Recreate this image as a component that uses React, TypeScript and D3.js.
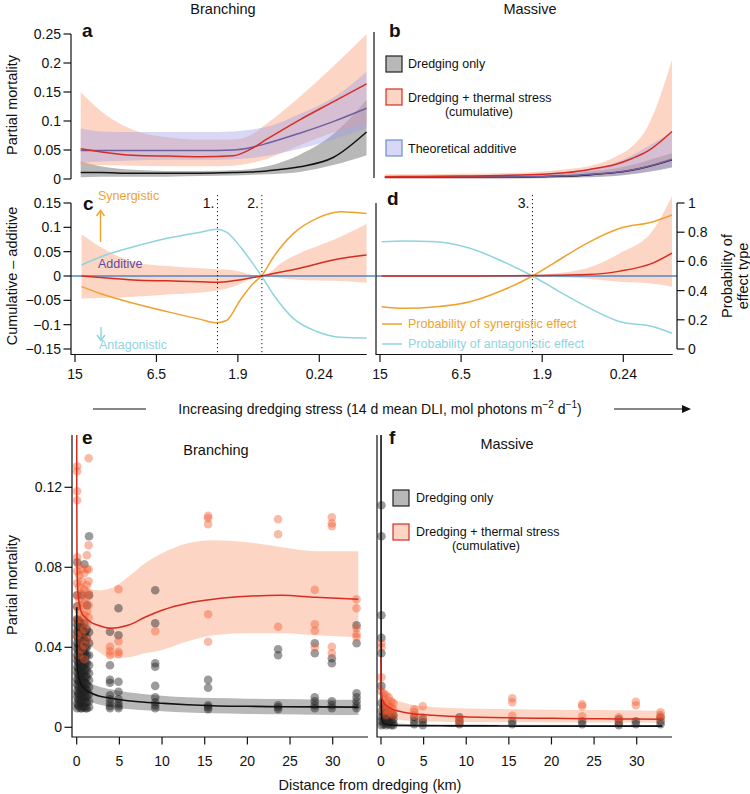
import React from "react";
import * as d3 from "d3";

// ---------- Tick labels ----------
const dliTicks = [0, 1, 2, 3];
const dliLabels = ["15", "6.5", "1.9", "0.24"];
const aYTicks = [0, 0.05, 0.1, 0.15, 0.2, 0.25];
const aYLabels = ["0", "0.05", "0.1", "0.15", "0.2", "0.25"];
const cYTicks = [-0.15, -0.1, -0.05, 0, 0.05, 0.1, 0.15];
const cYLabels = ["\u22120.15", "\u22120.1", "\u22120.05", "0", "0.05", "0.1", "0.15"];
const pTicks = [0, 0.2, 0.4, 0.6, 0.8, 1];
const pLabels = ["0", "0.2", "0.4", "0.6", "0.8", "1"];
const eYTicks = [0, 0.04, 0.08, 0.12];
const eYLabels = ["0", "0.04", "0.08", "0.12"];
const kmTicks = [0, 5, 10, 15, 20, 25, 30];

// ---------- Panel a (Branching) ----------
const uA = [0.07, 0.31, 0.71, 1.13, 1.54, 1.94, 2.15, 2.36, 2.76, 3.17, 3.58];
const aDredge = [0.011, 0.011, 0.010, 0.010, 0.010, 0.011, 0.012, 0.014, 0.021, 0.037, 0.081];
const aDredgeLo = [0.003, 0.004, 0.004, 0.004, 0.005, 0.006, 0.007, 0.008, 0.012, 0.024, 0.041];
const aDredgeHi = [0.030, 0.022, 0.016, 0.014, 0.014, 0.015, 0.017, 0.022, 0.042, 0.077, 0.136];
const aCumul = [0.052, 0.047, 0.041, 0.0395, 0.0385, 0.040, 0.051, 0.069, 0.102, 0.133, 0.164];
const aCumulLo = [0.024, 0.024, 0.023, 0.022, 0.022, 0.023, 0.027, 0.035, 0.058, 0.080, 0.095];
const aCumulHi = [0.150, 0.118, 0.085, 0.072, 0.068, 0.068, 0.075, 0.096, 0.142, 0.194, 0.250];
const aAdd = [0.049, 0.049, 0.049, 0.049, 0.049, 0.050, 0.054, 0.0615, 0.079, 0.099, 0.122];
const aAddLo = [0.028, 0.030, 0.032, 0.033, 0.033, 0.034, 0.036, 0.040, 0.052, 0.068, 0.088];
const aAddHi = [0.087, 0.082, 0.081, 0.081, 0.081, 0.082, 0.085, 0.090, 0.112, 0.140, 0.185];

// ---------- Panel b (Massive) ----------
const uB = [0.06, 0.5, 1.0, 1.5, 2.0, 2.3, 2.6, 2.9, 3.1, 3.3, 3.6];
const bCumul = [0.004, 0.0045, 0.005, 0.006, 0.008, 0.011, 0.017, 0.025, 0.035, 0.048, 0.082];
const bCumulLo = [0.0005, 0.0005, 0.001, 0.001, 0.002, 0.003, 0.005, 0.008, 0.011, 0.016, 0.028];
const bCumulHi = [0.008, 0.008, 0.009, 0.010, 0.013, 0.017, 0.023, 0.038, 0.055, 0.090, 0.205];
const bDredge = [0.003, 0.003, 0.003, 0.003, 0.004, 0.005, 0.0075, 0.011, 0.015, 0.021, 0.033];
const bDredgeLo = [0.001, 0.001, 0.001, 0.001, 0.0015, 0.002, 0.003, 0.005, 0.008, 0.012, 0.020];
const bDredgeHi = [0.005, 0.005, 0.005, 0.006, 0.007, 0.009, 0.013, 0.018, 0.024, 0.032, 0.045];
const bAdd = [0.0035, 0.0035, 0.0035, 0.0035, 0.0045, 0.0055, 0.008, 0.0115, 0.0155, 0.0215, 0.034];
const bAddLo = [0.001, 0.001, 0.001, 0.0015, 0.002, 0.003, 0.004, 0.006, 0.009, 0.013, 0.021];
const bAddHi = [0.006, 0.006, 0.006, 0.007, 0.009, 0.012, 0.018, 0.028, 0.040, 0.056, 0.080];

// ---------- Panel c ----------
const uC = [0.08, 0.31, 0.72, 1.13, 1.54, 1.74, 1.94, 2.29, 2.56, 2.76, 3.17, 3.58];
const cDiff = [0.0, -0.003, -0.008, -0.010, -0.0117, -0.013, -0.010, 0.0, 0.009, 0.016, 0.033, 0.043];
const cDiffLo = [-0.046, -0.045, -0.0425, -0.038, -0.034, -0.030, -0.022, 0.0, -0.005, -0.008, -0.010, -0.0137];
const cDiffHi = [0.086, 0.060, 0.029, 0.0206, 0.0158, 0.014, 0.012, 0.0, 0.030, 0.047, 0.074, 0.107];
const uCP = [0.08, 0.31, 0.72, 1.13, 1.54, 1.74, 1.86, 2.03, 2.19, 2.29, 2.44, 2.68, 2.97, 3.26, 3.58];
const cSyn = [0.427, 0.38, 0.313, 0.256, 0.203, 0.18, 0.195, 0.336, 0.45, 0.5, 0.632, 0.79, 0.895, 0.94, 0.928];
const cAnt = [0.575, 0.63, 0.70, 0.758, 0.80, 0.82, 0.80, 0.70, 0.58, 0.5, 0.37, 0.21, 0.12, 0.08, 0.075];
const cBreaks = [1.75, 2.295];
const cBreakLabels = ["1.", "2."];

// ---------- Panel d ----------
const uD = [0.02, 0.29, 0.70, 1.11, 1.52, 1.88, 2.14, 2.55, 2.96, 3.37, 3.6];
const dSyn = [0.29, 0.279, 0.29, 0.324, 0.404, 0.5, 0.587, 0.724, 0.827, 0.872, 0.918];
const dAnt = [0.735, 0.74, 0.735, 0.69, 0.598, 0.5, 0.416, 0.29, 0.187, 0.153, 0.108];
const dDiff = [0, 0, 0, 0, 0.0005, 0.001, 0.0015, 0.003, 0.010, 0.027, 0.047];
const dDiffLo = [-0.002, -0.002, -0.002, -0.002, -0.002, -0.001, -0.002, -0.005, -0.012, -0.016, -0.022];
const dDiffHi = [0.002, 0.002, 0.002, 0.002, 0.002, 0.002, 0.005, 0.016, 0.047, 0.095, 0.164];
const dBreaks = [1.88];
const dBreakLabels = ["3."];

// ---------- Panels e / f fitted curves ----------
const kmGrid = [0, 0.01, 0.03, 0.1, 0.3, 0.6, 1, 1.5, 2.5, 4, 6, 8, 10, 13, 16, 20, 24, 28, 33];
const eRed = [0.2, 0.12, 0.085, 0.07, 0.062, 0.057, 0.055, 0.053, 0.051, 0.0495, 0.051, 0.055, 0.0585, 0.062, 0.064, 0.0655, 0.066, 0.065, 0.064];
const eRedLo = [0.15, 0.085, 0.06, 0.05, 0.046, 0.044, 0.043, 0.041, 0.038, 0.0347, 0.035, 0.037, 0.0387, 0.043, 0.046, 0.047, 0.047, 0.046, 0.045];
const eRedHi = [0.25, 0.16, 0.11, 0.09, 0.08, 0.074, 0.071, 0.069, 0.0685, 0.0695, 0.075, 0.082, 0.087, 0.092, 0.0935, 0.0925, 0.09, 0.088, 0.088];
const eBlack = [0.06, 0.045, 0.036, 0.029, 0.024, 0.021, 0.019, 0.0175, 0.0158, 0.0145, 0.0133, 0.0125, 0.012, 0.0113, 0.0108, 0.0105, 0.0103, 0.0102, 0.0101];
const eBlackLo = [0.05, 0.036, 0.028, 0.021, 0.017, 0.015, 0.0135, 0.0128, 0.0115, 0.0102, 0.0092, 0.0085, 0.008, 0.0074, 0.007, 0.0067, 0.0065, 0.0063, 0.0062];
const eBlackHi = [0.07, 0.054, 0.044, 0.037, 0.031, 0.027, 0.0245, 0.0225, 0.0205, 0.019, 0.0175, 0.0165, 0.0158, 0.015, 0.0146, 0.0143, 0.0141, 0.0139, 0.0138];
const fRed = [0.035, 0.025, 0.019, 0.015, 0.0125, 0.011, 0.0098, 0.0088, 0.0077, 0.0067, 0.006, 0.0055, 0.0052, 0.0049, 0.0047, 0.0045, 0.0043, 0.0042, 0.004];
const fRedLo = [0.022, 0.015, 0.011, 0.008, 0.006, 0.005, 0.0045, 0.004, 0.0035, 0.003, 0.0028, 0.0027, 0.0026, 0.0025, 0.0025, 0.0024, 0.0024, 0.0024, 0.0023];
const fRedHi = [0.05, 0.036, 0.028, 0.023, 0.019, 0.017, 0.0155, 0.014, 0.0125, 0.011, 0.0102, 0.0097, 0.0094, 0.0091, 0.009, 0.0088, 0.0086, 0.0085, 0.0083];
const fBlack = [0.3, 0.05, 0.012, 0.004, 0.002, 0.0015, 0.0012, 0.001, 0.0009, 0.0008, 0.0008, 0.0007, 0.0007, 0.0007, 0.0006, 0.0006, 0.0006, 0.0006, 0.0006];
const fBlackLo = [0.25, 0.04, 0.009, 0.002, 0.001, 0.0008, 0.0006, 0.0005, 0.0004, 0.0004, 0.0003, 0.0003, 0.0003, 0.0003, 0.0003, 0.0003, 0.0003, 0.0003, 0.0003];
const fBlackHi = [0.35, 0.06, 0.016, 0.006, 0.0035, 0.0027, 0.0023, 0.002, 0.0018, 0.0016, 0.0015, 0.0014, 0.0014, 0.0013, 0.0013, 0.0013, 0.0012, 0.0012, 0.0012];

// ---------- Panels e / f observations: [km, values] ----------
const eGreyCols: [number, number[]][] = [
  [0.05, [0.0095, 0.012, 0.0155, 0.018, 0.0215, 0.024, 0.0275, 0.030, 0.0335, 0.036, 0.0395, 0.042, 0.0455, 0.048, 0.0515, 0.054, 0.0605, 0.066, 0.0825]],
  [0.15, [0.011, 0.014, 0.017, 0.0205, 0.0235, 0.0265, 0.0295, 0.0325, 0.0355, 0.0385, 0.0415, 0.0445, 0.0475, 0.0505, 0.0535]],
  [0.3, [0.0105, 0.0135, 0.0165, 0.0195, 0.023, 0.026, 0.029, 0.032, 0.035, 0.038, 0.041, 0.044, 0.047, 0.050, 0.053]],
  [0.45, [0.0095, 0.0125, 0.015, 0.018, 0.021, 0.024, 0.027, 0.030, 0.033, 0.036, 0.039, 0.042, 0.045, 0.0485, 0.052]],
  [0.6, [0.0095, 0.0125, 0.016, 0.019, 0.022, 0.0255, 0.028, 0.031, 0.0345, 0.037, 0.0405, 0.0435, 0.0465, 0.0495, 0.066]],
  [0.75, [0.0105, 0.014, 0.0175, 0.0205, 0.0235, 0.027, 0.030, 0.033, 0.0365, 0.0395, 0.0425, 0.046, 0.050]],
  [0.9, [0.010, 0.013, 0.016, 0.0195, 0.0225, 0.025, 0.028, 0.0315, 0.034, 0.037, 0.040, 0.0435, 0.047, 0.052, 0.0815]],
  [1.05, [0.0095, 0.0125, 0.0155, 0.019, 0.022, 0.0255, 0.029, 0.0325, 0.036, 0.0395, 0.043, 0.0475]],
  [1.2, [0.0095, 0.0125, 0.0155, 0.0185, 0.0215, 0.025, 0.0285, 0.032, 0.036, 0.040, 0.0445, 0.049, 0.061]],
  [1.45, [0.010, 0.013, 0.0165, 0.020, 0.0235, 0.027, 0.031, 0.036, 0.042, 0.0475, 0.066, 0.0955]],
  [3.9, [0.0095, 0.0105, 0.012, 0.014, 0.016, 0.0223, 0.0237, 0.031, 0.0478]],
  [4.9, [0.0095, 0.0105, 0.012, 0.014, 0.0178, 0.0228, 0.046, 0.0595]],
  [9.2, [0.0095, 0.011, 0.0125, 0.015, 0.0207, 0.0303, 0.032, 0.052, 0.0685]],
  [15.4, [0.009, 0.010, 0.011, 0.0198, 0.0237]],
  [23.6, [0.009, 0.010, 0.011, 0.036, 0.039]],
  [27.9, [0.0095, 0.011, 0.013, 0.015, 0.037, 0.042]],
  [29.9, [0.0095, 0.011, 0.013, 0.032, 0.0345]],
  [32.8, [0.0095, 0.011, 0.013, 0.015, 0.017, 0.042, 0.051]],
];
const eRedCols: [number, number[]][] = [
  [0.05, [0.1305, 0.128, 0.118, 0.1135, 0.085, 0.078, 0.072, 0.066, 0.060, 0.054, 0.046]],
  [0.3, [0.081, 0.076, 0.070, 0.064, 0.058, 0.051, 0.043, 0.036]],
  [0.6, [0.079, 0.073, 0.067, 0.061, 0.054, 0.047, 0.039]],
  [0.9, [0.077, 0.069, 0.062, 0.056, 0.049, 0.041, 0.034]],
  [1.2, [0.086, 0.079, 0.071, 0.065, 0.058, 0.052, 0.044]],
  [1.4, [0.1345, 0.091, 0.079, 0.073, 0.067, 0.061, 0.055]],
  [3.9, [0.036, 0.038, 0.0403]],
  [4.9, [0.0366, 0.0378, 0.043, 0.069]],
  [9.2, [0.048]],
  [15.4, [0.0428, 0.0565, 0.1015, 0.1045, 0.1057]],
  [23.6, [0.0503, 0.0965, 0.104]],
  [27.9, [0.040, 0.0483, 0.0515, 0.0687]],
  [29.9, [0.037, 0.0403, 0.1005, 0.102, 0.105]],
  [32.8, [0.045, 0.0465, 0.0495, 0.0595, 0.064]],
];
const fGreyCols: [number, number[]][] = [
  [0.05, [0.001, 0.003, 0.005, 0.008, 0.012, 0.0207, 0.037, 0.0447, 0.056, 0.0955, 0.111]],
  [0.3, [0.0015, 0.003, 0.005, 0.007, 0.010]],
  [0.6, [0.001, 0.002, 0.004, 0.006, 0.009]],
  [0.9, [0.0015, 0.003, 0.005, 0.008]],
  [1.2, [0.001, 0.003, 0.005, 0.007]],
  [1.45, [0.001, 0.002, 0.004, 0.006]],
  [3.9, [0.0015, 0.003, 0.005]],
  [4.9, [0.001, 0.0025, 0.004]],
  [9.2, [0.0015, 0.003, 0.005]],
  [15.4, [0.0015, 0.003]],
  [23.6, [0.0015, 0.003]],
  [27.9, [0.001, 0.002, 0.004]],
  [29.9, [0.0015, 0.003]],
  [32.8, [0.0015, 0.003, 0.005]],
];
const fRedCols: [number, number[]][] = [
  [0.05, [0.018, 0.025, 0.040, 0.042]],
  [0.3, [0.008, 0.011, 0.014, 0.017]],
  [0.6, [0.006, 0.009, 0.012, 0.016]],
  [0.9, [0.008, 0.011, 0.015]],
  [1.2, [0.007, 0.010, 0.013]],
  [1.45, [0.006, 0.009, 0.012]],
  [3.9, [0.006, 0.0075, 0.009]],
  [4.9, [0.005, 0.0105]],
  [9.2, [0.003, 0.004]],
  [15.4, [0.0057, 0.0125, 0.0145]],
  [23.6, [0.0055, 0.0105, 0.0115]],
  [27.9, [0.0035, 0.005]],
  [29.9, [0.011, 0.0128]],
  [32.8, [0.0045, 0.006, 0.0075]],
];

// ---------- styles ----------
const FONT = "'Liberation Sans', Arial, Helvetica, sans-serif";
const C_RED = "#d62d20";
const C_PURPLE = "#6d5fa0";
const C_ORANGE = "#f0a22e";
const C_CYAN = "#8fd4df";
const C_BLUE = "#4f86c8";
const F_SALMON = "#f8a27e";
const F_LAV = "#9d9be8";
const F_GREY = "#555555";

type S = d3.ScaleLinear<number, number>;

function linePath(xs: number[], ys: number[], sx: S, sy: S) {
  return (
    d3
      .line<[number, number]>()
      .x((d) => sx(d[0]))
      .y((d) => sy(d[1]))
      .curve(d3.curveMonotoneX)(xs.map((x, i) => [x, ys[i]] as [number, number])) || ""
  );
}
function areaPath(xs: number[], lo: number[], hi: number[], sx: S, sy: S) {
  return (
    d3
      .area<number>()
      .x((d) => sx(d))
      .y0((_, i) => sy(lo[i]))
      .y1((_, i) => sy(hi[i]))
      .curve(d3.curveMonotoneX)(xs) || ""
  );
}
function flat(cols: [number, number[]][]) {
  const out: [number, number][] = [];
  cols.forEach(([k, vs]) => vs.forEach((v) => out.push([k, v])));
  return out;
}

const T = ({ x, y, children, anchor = "start", size = 14, fill = "#111", weight = "normal", rotate = 0 }: any) => (
  <text
    x={rotate ? 0 : x}
    y={rotate ? 0 : y}
    transform={rotate ? `translate(${x},${y}) rotate(${rotate})` : undefined}
    textAnchor={anchor}
    fontSize={size}
    fill={fill}
    fontWeight={weight}
    fontFamily={FONT}
    dominantBaseline="central"
  >
    {children}
  </text>
);

export default function App() {
  // scales
  const xL = d3.scaleLinear().domain([0, 3]).range([75, 319.3]);
  const xR = d3.scaleLinear().domain([0, 3]).range([380, 623.3]);
  const yA = d3.scaleLinear().domain([0, 0.25]).range([179, 34]);
  const yC = d3.scaleLinear().domain([-0.15, 0.15]).range([349, 203]);
  const yP = d3.scaleLinear().domain([0, 1]).range([349, 203]);
  const xE = d3.scaleLinear().domain([0, 30]).range([76.7, 332.7]);
  const xF = d3.scaleLinear().domain([0, 30]).range([381, 636.7]);
  const yE = d3.scaleLinear().domain([0, 0.12]).range([727.3, 487.3]);

  const ax = { stroke: "#111", strokeWidth: 1.2, fill: "none" };

  const yTicksLeft = (ticks: number[], labels: string[], sy: S, x0: number) => (
    <g>
      {ticks.map((t, i) => (
        <g key={i}>
          <line x1={x0 - 7.5} x2={x0} y1={sy(t)} y2={sy(t)} {...ax} />
          <T x={x0 - 10} y={sy(t)} anchor="end">
            {labels[i]}
          </T>
        </g>
      ))}
    </g>
  );
  const xTicksBottom = (ticks: number[], labels: string[], sx: S, y0: number, off: number) => (
    <g>
      {ticks.map((t, i) => (
        <g key={i}>
          <line x1={sx(t)} x2={sx(t)} y1={y0} y2={y0 + 7.5} {...ax} />
          <T x={sx(t)} y={y0 + off} anchor="middle">
            {labels[i]}
          </T>
        </g>
      ))}
    </g>
  );

  const eGrey = flat(eGreyCols);
  const eRedP = flat(eRedCols);
  const fGrey = flat(fGreyCols);
  const fRedP = flat(fRedCols);

  const legendSq = (x: number, y: number, fill: string, stroke: string, op: number) => (
    <g>
      <rect x={x} y={y} width={16} height={16} fill="#fff" />
      <rect x={x} y={y} width={16} height={16} fill={fill} fillOpacity={op} stroke={stroke} strokeWidth={1.2} />
    </g>
  );

  return (
    <svg width={750} height={794} style={{ position: "absolute", left: 0, top: 0, background: "#fff" }}>
      <defs>
        <clipPath id="clipE">
          <rect x={72} y={435} width={296} height={302} />
        </clipPath>
        <clipPath id="clipF">
          <rect x={377} y={435} width={296} height={302} />
        </clipPath>
      </defs>
      <rect x={0} y={0} width={750} height={794} fill="#fff" />

      {/* Titles */}
      <T x={223} y={9} anchor="middle" size={14.5}>Branching</T>
      <T x={530} y={9} anchor="middle" size={14.5}>Massive</T>

      {/* ---------- Panel a ---------- */}
      <path d={areaPath(uA, aDredgeLo, aDredgeHi, xL, yA)} fill={F_GREY} fillOpacity={0.42} />
      <path d={areaPath(uA, aCumulLo, aCumulHi, xL, yA)} fill={F_SALMON} fillOpacity={0.45} />
      <path d={areaPath(uA, aAddLo, aAddHi, xL, yA)} fill={F_LAV} fillOpacity={0.4} />
      <path d={linePath(uA, aDredge, xL, yA)} stroke="#111" strokeWidth={1.5} fill="none" />
      <path d={linePath(uA, aAdd, xL, yA)} stroke={C_PURPLE} strokeWidth={1.5} fill="none" />
      <path d={linePath(uA, aCumul, xL, yA)} stroke={C_RED} strokeWidth={1.5} fill="none" />
      <line x1={71} x2={71} y1={yA(0.25)} y2={yA(0)} {...ax} />
      {yTicksLeft(aYTicks, aYLabels, yA, 71)}
      <T x={82} y={30} size={19} weight="bold">a</T>
      <T x={12} y={105} size={14.5} rotate={-90} anchor="middle">Partial mortality</T>

      {/* ---------- Panel b ---------- */}
      <path d={areaPath(uB, bDredgeLo, bDredgeHi, xR, yA)} fill={F_GREY} fillOpacity={0.42} />
      <path d={areaPath(uB, bCumulLo, bCumulHi, xR, yA)} fill={F_SALMON} fillOpacity={0.45} />
      <path d={areaPath(uB, bAddLo, bAddHi, xR, yA)} fill={F_LAV} fillOpacity={0.4} />
      <path d={linePath(uB, bDredge, xR, yA)} stroke="#111" strokeWidth={1.5} fill="none" />
      <path d={linePath(uB, bAdd, xR, yA)} stroke={C_PURPLE} strokeWidth={1.5} fill="none" />
      <path d={linePath(uB, bCumul, xR, yA)} stroke={C_RED} strokeWidth={1.5} fill="none" />
      <line x1={374} x2={374} y1={32} y2={178} {...ax} />
      <T x={389} y={30} size={19} weight="bold">b</T>
      {legendSq(386, 56, F_GREY, "#222", 0.42)}
      <T x={408} y={63.5} size={12.5}>Dredging only</T>
      {legendSq(386, 89, F_SALMON, C_RED, 0.45)}
      <T x={408} y={98} size={12.5}>Dredging + thermal stress</T>
      <T x={479} y={112} size={12.5} anchor="middle">(cumulative)</T>
      {legendSq(386, 140, F_LAV, "#6b8fd0", 0.4)}
      <T x={408} y={148.5} size={12.5}>Theoretical additive</T>

      {/* ---------- Panel c ---------- */}
      <path d={areaPath(uC, cDiffLo, cDiffHi, xL, yC)} fill={F_SALMON} fillOpacity={0.45} />
      <line x1={71} x2={375} y1={yC(0)} y2={yC(0)} stroke={C_BLUE} strokeWidth={1.6} />
      <path d={linePath(uCP, cAnt, xL, yP)} stroke={C_CYAN} strokeWidth={1.5} fill="none" />
      <path d={linePath(uCP, cSyn, xL, yP)} stroke={C_ORANGE} strokeWidth={1.5} fill="none" />
      <path d={linePath(uC, cDiff, xL, yC)} stroke={C_RED} strokeWidth={1.5} fill="none" />
      {cBreaks.map((b, i) => (
        <g key={i}>
          <line x1={xL(b)} x2={xL(b)} y1={195} y2={354} stroke="#111" strokeWidth={1} strokeDasharray="1.2,2.8" />
          <T x={xL(b) - 3} y={203} anchor="end" size={14}>{cBreakLabels[i]}</T>
        </g>
      ))}
      <path d={`M71,203 L71,354.5 L366.7,354.5`} {...ax} />
      {yTicksLeft(cYTicks, cYLabels, yC, 71)}
      {xTicksBottom(dliTicks, dliLabels, xL, 354.5, 19.5)}
      <T x={83} y={203} size={19} weight="bold">c</T>
      <T x={98} y={196} size={12.5} fill={C_ORANGE}>Synergistic</T>
      <line x1={100.5} x2={100.5} y1={242} y2={210.5} stroke={C_ORANGE} strokeWidth={1.4} />
      <path d="M96.5,216 L100.5,210.5 L104.5,216" stroke={C_ORANGE} strokeWidth={1.4} fill="none" />
      <T x={98} y={264} size={12.5} fill="#5a4e9e">Additive</T>
      <line x1={101} x2={101} y1={327} y2={340.5} stroke={C_CYAN} strokeWidth={1.4} />
      <path d="M97,335 L101,340.5 L105,335" stroke={C_CYAN} strokeWidth={1.4} fill="none" />
      <T x={99} y={345} size={12.5} fill={C_CYAN}>Antagonistic</T>
      <T x={12} y={276} size={14.5} rotate={-90} anchor="middle">Cumulative – additive</T>

      {/* ---------- Panel d ---------- */}
      <path d={areaPath(uD, dDiffLo, dDiffHi, xR, yC)} fill={F_SALMON} fillOpacity={0.45} />
      <line x1={376} x2={677} y1={yC(0)} y2={yC(0)} stroke={C_BLUE} strokeWidth={1.6} />
      <path d={linePath(uD, dAnt, xR, yP)} stroke={C_CYAN} strokeWidth={1.5} fill="none" />
      <path d={linePath(uD, dSyn, xR, yP)} stroke={C_ORANGE} strokeWidth={1.5} fill="none" />
      <path d={linePath(uD, dDiff, xR, yC)} stroke={C_RED} strokeWidth={1.5} fill="none" />
      {dBreaks.map((b, i) => (
        <g key={i}>
          <line x1={xR(b)} x2={xR(b)} y1={195} y2={354} stroke="#111" strokeWidth={1} strokeDasharray="1.2,2.8" />
          <T x={xR(b) - 3} y={203} anchor="end" size={14}>{dBreakLabels[i]}</T>
        </g>
      ))}
      <path d={`M376,203 L376,354.5 L672.7,354.5`} {...ax} />
      {xTicksBottom(dliTicks, dliLabels, xR, 354.5, 19.5)}
      <line x1={677} x2={677} y1={yP(0)} y2={yP(1)} {...ax} />
      {pTicks.map((t, i) => (
        <g key={i}>
          <line x1={677} x2={684.5} y1={yP(t)} y2={yP(t)} {...ax} />
          <T x={688} y={yP(t)} size={14}>{pLabels[i]}</T>
        </g>
      ))}
      <T x={727} y={276} size={14.5} rotate={-90} anchor="middle">Probability of</T>
      <T x={743} y={276} size={14.5} rotate={-90} anchor="middle">effect type</T>
      <T x={387} y={198} size={19} weight="bold">d</T>
      <line x1={382} x2={402} y1={324} y2={324} stroke={C_ORANGE} strokeWidth={1.5} />
      <T x={408} y={324} size={12.5} fill={C_ORANGE}>Probability of synergistic effect</T>
      <line x1={382} x2={402} y1={344} y2={344} stroke={C_CYAN} strokeWidth={1.5} />
      <T x={408} y={344} size={12.5} fill={C_CYAN}>Probability of antagonistic effect</T>

      {/* ---------- shared x label ---------- */}
      <line x1={93} x2={146} y1={409} y2={409} stroke="#111" strokeWidth={1.2} />
      <line x1={614} x2={684} y1={409} y2={409} stroke="#111" strokeWidth={1.2} />
      <path d="M682,405 L691,409 L682,413 Z" fill="#111" />
      <text x={380} y={409} textAnchor="middle" fontSize={14} fontFamily={FONT} fill="#111" dominantBaseline="central">
        Increasing dredging stress (14 d mean DLI, mol photons m
        <tspan fontSize={10} dy={-5}>−2</tspan>
        <tspan dy={5}> d</tspan>
        <tspan fontSize={10} dy={-5}>−1</tspan>
        <tspan dy={5}>)</tspan>
      </text>

      {/* ---------- Panel e ---------- */}
      <g clipPath="url(#clipE)">
        <path d={areaPath(kmGrid, eBlackLo, eBlackHi, xE, yE)} fill={F_GREY} fillOpacity={0.42} />
        <path d={areaPath(kmGrid, eRedLo, eRedHi, xE, yE)} fill={F_SALMON} fillOpacity={0.45} />
        {eGrey.map((p, i) => (
          <circle key={"eg" + i} cx={xE(p[0])} cy={yE(p[1])} r={4.3} fill="#222" fillOpacity={0.45} />
        ))}
        {eRedP.map((p, i) => (
          <circle key={"er" + i} cx={xE(p[0])} cy={yE(p[1])} r={4.3} fill="#f25a30" fillOpacity={0.42} />
        ))}
        <path d={linePath(kmGrid, eBlack, xE, yE)} stroke="#111" strokeWidth={1.6} fill="none" />
        <path d={linePath(kmGrid, eRed, xE, yE)} stroke={C_RED} strokeWidth={1.5} fill="none" />
      </g>
      <path d="M72,435 L72,737 L368,737" {...ax} />
      {yTicksLeft(eYTicks, eYLabels, yE, 72)}
      {xTicksBottom(kmTicks, kmTicks.map(String), xE, 737, 24)}
      <T x={82} y={437} size={19} weight="bold">e</T>
      <T x={216} y={450} anchor="middle" size={14.5}>Branching</T>
      <T x={12} y={585} size={14.5} rotate={-90} anchor="middle">Partial mortality</T>

      {/* ---------- Panel f ---------- */}
      <g clipPath="url(#clipF)">
        <path d={areaPath(kmGrid, fBlackLo, fBlackHi, xF, yE)} fill={F_GREY} fillOpacity={0.42} />
        <path d={areaPath(kmGrid, fRedLo, fRedHi, xF, yE)} fill={F_SALMON} fillOpacity={0.45} />
        {fGrey.map((p, i) => (
          <circle key={"fg" + i} cx={xF(p[0])} cy={yE(p[1])} r={4.3} fill="#222" fillOpacity={0.45} />
        ))}
        {fRedP.map((p, i) => (
          <circle key={"fr" + i} cx={xF(p[0])} cy={yE(p[1])} r={4.3} fill="#f25a30" fillOpacity={0.42} />
        ))}
        <path d={linePath(kmGrid, fBlack, xF, yE)} stroke="#111" strokeWidth={1.6} fill="none" />
        <path d={linePath(kmGrid, fRed, xF, yE)} stroke={C_RED} strokeWidth={1.5} fill="none" />
      </g>
      <path d="M377,435 L377,737 L672,737" {...ax} />
      {xTicksBottom(kmTicks, kmTicks.map(String), xF, 737, 24)}
      <T x={389} y={437} size={19} weight="bold">f</T>
      <T x={507} y={444} anchor="middle" size={14.5}>Massive</T>
      {legendSq(393, 490, F_GREY, "#222", 0.42)}
      <T x={416} y={498} size={12.5}>Dredging only</T>
      {legendSq(393, 524, F_SALMON, C_RED, 0.45)}
      <T x={416} y={532} size={12.5}>Dredging + thermal stress</T>
      <T x={486} y={546} size={12.5} anchor="middle">(cumulative)</T>

      <T x={370} y={785} anchor="middle" size={14.5}>Distance from dredging (km)</T>
    </svg>
  );
}
